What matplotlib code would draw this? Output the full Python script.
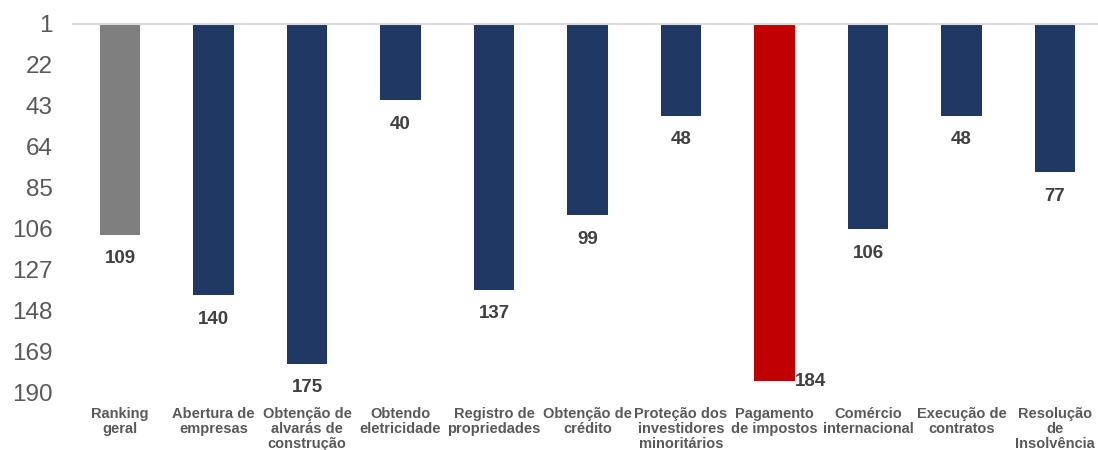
import numpy as np
import matplotlib.pyplot as plt

categories = ['Ranking\ngeral', 'Abertura de\nempresas', 'Obtenção de\nalvarás de\nconstrução',
              'Obtendo\neletricidade', 'Registro de\npropriedades', 'Obtenção de\ncrédito',
              'Proteção dos\ninvestidores\nminoritários', 'Pagamento\nde impostos',
              'Comércio\ninternacional', 'Execução de\ncontratos', 'Resolução\nde\nInsolvência']
ranks = [109, 140, 175, 40, 137, 99, 48, 184, 106, 48, 77]
yticks = [1, 22, 43, 64, 85, 106, 127, 148, 169, 190]

navy = '#203864'
colors = [navy] * len(ranks)
colors[0] = '#7F7F7F'
colors[7] = '#C00000'

plt.rcParams['font.family'] = ['Liberation Sans', 'DejaVu Sans']

fig = plt.figure(figsize=(10.98, 4.5), dpi=100)
ax = fig.add_axes([0.0667, 0.1267, 0.9367, 0.82])

x = np.arange(len(ranks))
base = 1
ax.bar(x, np.array(ranks) - base, bottom=base, width=0.43, color=colors, zorder=2)

ax.set_ylim(190, 1)
ax.set_xlim(-0.5, len(ranks) - 0.5)
ax.set_yticks(yticks)
ax.set_yticklabels([str(t) for t in yticks], fontsize=17.5, color='#595959')
ax.set_xticks(x)
ax.set_xticklabels(categories, fontsize=10.5, fontweight='bold', color='#595959',
                   linespacing=1.1)
ax.tick_params(axis='both', length=0)
ax.tick_params(axis='x', pad=10)
ax.tick_params(axis='y', pad=15)

for s in ['left', 'right', 'bottom']:
    ax.spines[s].set_visible(False)
ax.spines['top'].set_color('#D9D9D9')
ax.spines['top'].set_linewidth(1.5)
ax.spines['top'].set_zorder(3)

for i, v in enumerate(ranks):
    if v > 180:
        ax.text(i + 0.215, v, str(v), ha='left', va='center', fontsize=13.5,
                fontweight='bold', color='#404040')
    else:
        ax.text(i, v + 8, str(v), ha='center', va='top', fontsize=13.5,
                fontweight='bold', color='#404040')

fig.savefig('out.png', dpi=100)
